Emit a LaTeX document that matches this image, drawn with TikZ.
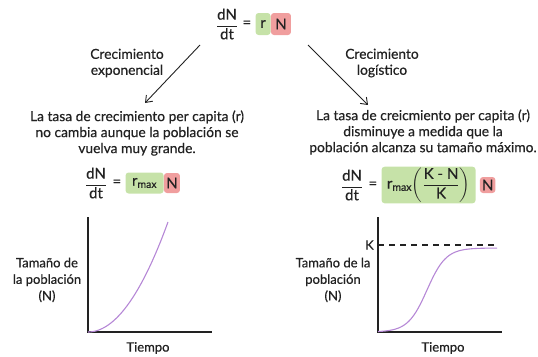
\documentclass[tikz,border=0pt]{standalone}
\usepackage{amsmath}
\usepackage{fontspec}
\setmainfont{Lato}[UprightFeatures={FakeBold=0.5}]
\usetikzlibrary{arrows.meta, positioning, calc}
\definecolor{ratebox}{RGB}{198,226,168}
\definecolor{sizebox}{RGB}{240,158,158}
\definecolor{growth}{RGB}{182,136,214}
\definecolor{inkgray}{RGB}{34,34,34}

\begin{document}
\begin{tikzpicture}[x=1pt, y=-1pt,
  font=\fontsize{13.8}{16}\selectfont, text=inkgray,
  >={Straight Barb[length=6pt,width=9pt]},
  label/.style={align=center, inner sep=1pt},
  axislabel/.style={align=center, inner sep=1pt, font=\fontsize{13}{16.5}\selectfont},
  eqpart/.style={font=\fontsize{15}{18}\selectfont, inner sep=1pt},
  greenbox/.style={eqpart, fill=ratebox, rounded corners=3pt, inner xsep=2pt},
  redbox/.style={eqpart, fill=sizebox, rounded corners=3pt, inner xsep=2pt},
  axis/.style={inkgray, line width=1.6pt},
  curve/.style={growth, line width=1.1pt}]
  \useasboundingbox (0,0) rectangle (538,356);

  % ecuacion general
  \node[eqpart] (topfrac) at (227,24) {$\dfrac{\text{dN}}{\text{dt}}$};
  \node[eqpart, right=2pt of topfrac] (topeq) {=};
  \node[greenbox, right=3pt of topeq, minimum width=15pt, minimum height=22pt] (topr) {r};
  \node[redbox, right=0pt of topr, minimum width=20pt, minimum height=22pt] (topN) {N};

  % flechas
  \coordinate (expstart) at (200,45);
  \coordinate (expend) at (145,103);
  \coordinate (logstart) at (308,45);
  \coordinate (logend) at (368,105);
  \draw[->, inkgray, line width=0.9pt] (expstart) -- (expend);
  \draw[->, inkgray, line width=0.9pt] (logstart) -- (logend);
  \node[label] (exptitle) at (127,63) {Crecimiento\\exponencial};
  \node[label] (logtitle) at (382,63) {Crecimiento\\logístico};

  % descripciones
  \node[label] (exptext) at (137,133) {La tasa de crecimiento per capita (r)\\no cambia aunque la población se\\vuelva muy grande.};
  \node[label] (logtext) at (423,132) {La tasa de creicmiento per capita (r)\\disminuye a medida que la\\población alcanza su tamaño máximo.};

  % ecuacion exponencial
  \node[eqpart] (expfrac) at (96,183) {$\dfrac{\text{dN}}{\text{dt}}$};
  \node[eqpart, right=3pt of expfrac] (expeq) {=};
  \node[greenbox, right=3pt of expeq, minimum width=38pt, minimum height=21pt] (exprate) {r$_{\text{max}}$};
  \node[redbox, right=0pt of exprate, minimum width=16pt, minimum height=20pt] (expN) {N};

  % ecuacion logistica
  \node[eqpart] (logfrac) at (352,185) {$\dfrac{\text{dN}}{\text{dt}}$};
  \node[eqpart, right=3pt of logfrac] (logeq) {=};
  \node[greenbox, right=3pt of logeq, minimum width=94pt, minimum height=35pt] (lograte) {r$_{\text{max}}\biggl(\dfrac{\text{K - N}}{\text{K}}\biggr)$};
  \node[redbox, right=4pt of lograte, minimum width=15pt, minimum height=16pt] (logN) {N};

  % grafica exponencial
  \coordinate (exptop) at (88,217);
  \coordinate (exporigin) at (88,332);
  \coordinate (expright) at (212,332);
  \draw[axis] (exptop) -- (exporigin) -- (expright);
  \draw[curve] plot[domain=0:1, samples=40] ({88+80*\x}, {332-110*\x*\x});
  \node[axislabel] (expylabel) at (47,280) {Tamaño de\\la población\\(N)};
  \node[axislabel] (exptime) at (148,348) {Tiempo};

  % grafica logistica
  \coordinate (logtop) at (378,217);
  \coordinate (logorigin) at (378,332);
  \coordinate (logright) at (502,332);
  \coordinate (kstart) at (378,245);
  \coordinate (kend) at (498,245);
  \draw[axis] (logtop) -- (logorigin) -- (logright);
  \draw[inkgray, line width=1.1pt, dash pattern=on 6pt off 5pt] (kstart) -- (kend);
  \draw[curve] plot[domain=378:497, samples=60] (\x, {332-84/(1+exp(-(\x-427)/9.5))});
  \node[axislabel, left=3pt of kstart] (klabel) {K};
  \node[axislabel] (logylabel) at (333,280) {Tamaño de la\\población\\(N)};
  \node[axislabel] (logtime) at (443,348) {Tiempo};
\end{tikzpicture}
\end{document}
